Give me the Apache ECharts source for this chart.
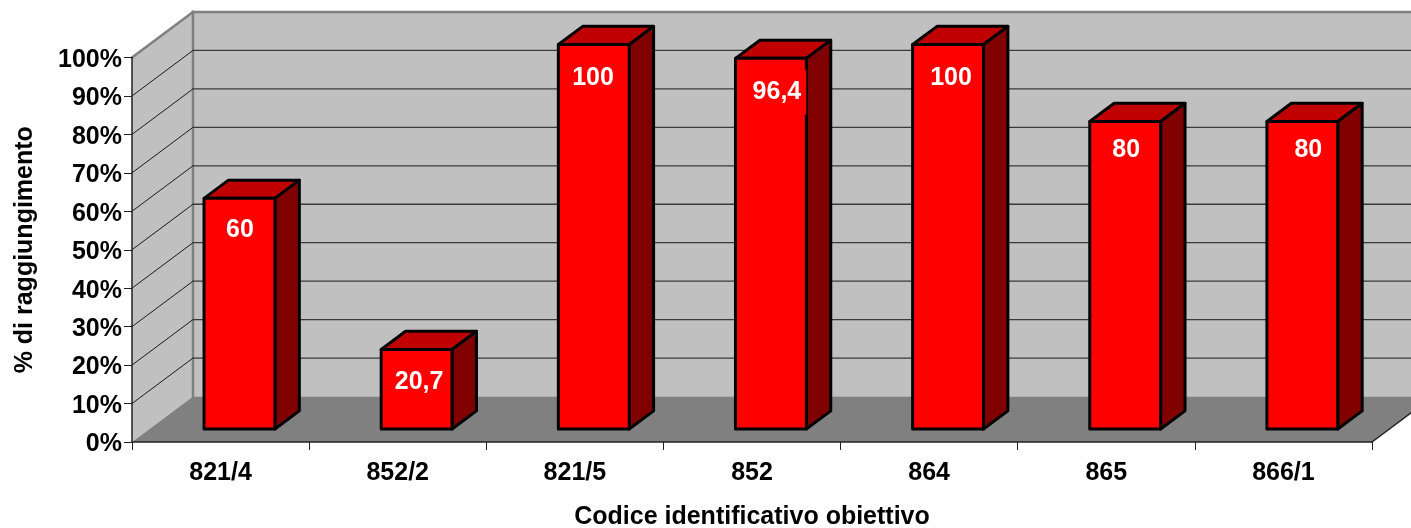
<!DOCTYPE html>
<html><head><meta charset="utf-8">
<style>html,body{margin:0;padding:0;background:#fff}#c{width:1411px;height:528px}</style>
<script src="https://cdn.jsdelivr.net/npm/echarts@6/dist/echarts.min.js"></script>
</head><body><div id="c"></div>
<script>
const categories = ['821/4','852/2','821/5','852','864','865','866/1'];
const values = [60,20.7,100,96.4,100,80,80];
const gridValues = [10,20,30,40,50,60,70,80,90];
const wallExtent = [0,100];

const DEPTH_X = 61, DEPTH_Y = -45.5;
const BAR_NEAR_X = 0.31, BAR_NEAR_Y = 0.285, BAR_DEPTH = 0.4, BAR_WIDTH = 0.4;
const LABEL_NUDGE_X = [0.5,2.5,-0.7,6,3,1,6];
const LABEL_NUDGE_Y = [-1,0,1,1,1,-4,-4];
const FONT = '"Liberation Sans", Arial, sans-serif';

function poly(points, fill, z2){
  return {type:'polygon', z2:z2||0, shape:{points}, style:{fill, stroke:null}};
}
function line(a,b,stroke,lineWidth,z2){
  return {type:'line', z2:z2||1, shape:{x1:a[0],y1:a[1],x2:b[0],y2:b[1]}, style:{stroke,lineWidth,lineCap:'square'}};
}
function plotEdges(api){
  const band = api.size([1,0])[0];
  return {
    left: api.coord([0,0])[0]-band/2,
    right: api.coord([categories.length-1,0])[0]+band/2,
    y0: api.coord([0,wallExtent[0]])[1],
    y1: api.coord([0,wallExtent[1]])[1],
    band
  };
}
function renderWalls(params,api){
  const e = plotEdges(api);
  const dx = DEPTH_X, dy = DEPTH_Y;
  const kids = [
    poly([[e.left+dx,e.y1+dy],[e.right+dx,e.y1+dy],[e.right+dx,e.y0+dy],[e.left+dx,e.y0+dy]],'#c0c0c0'),
    poly([[e.left,e.y1],[e.left+dx,e.y1+dy],[e.left+dx,e.y0+dy],[e.left,e.y0]],'#c0c0c0'),
    poly([[e.left,e.y0],[e.left+dx,e.y0+dy],[e.right+dx,e.y0+dy],[e.right,e.y0]],'#808080'),
    line([e.left,e.y1],[e.left+dx,e.y1+dy],'#808080',2.5,3),
    line([e.left+dx,e.y1+dy],[e.right+dx,e.y1+dy],'#808080',2.5,3),
    line([e.left+dx,e.y1+dy],[e.left+dx,e.y0+dy],'#808080',2.5,3),
    line([e.right,e.y0],[e.right+dx,e.y0+dy],'#222222',1.5,3)
  ];
  return {type:'group',children:kids};
}
function renderGrid(params,api){
  const e = plotEdges(api);
  const y = api.coord([0,api.value(0)])[1];
  return {type:'group',children:[
    line([e.left,y],[e.left+DEPTH_X,y+DEPTH_Y],'#1a1a1a',1),
    line([e.left+DEPTH_X,y+DEPTH_Y],[e.right+DEPTH_X,y+DEPTH_Y],'#3a3a3a',1.3)
  ]};
}
function renderBar(params,api){
  const cat = api.value(0), val = api.value(1);
  const band = api.size([1,0])[0];
  const c = api.coord([cat,0]);
  const top = api.coord([cat,val]);
  const w = band*BAR_WIDTH;
  const ox = DEPTH_X*BAR_NEAR_X, oy = DEPTH_Y*BAR_NEAR_Y;
  const sx = DEPTH_X*BAR_DEPTH, sy = DEPTH_Y*BAR_DEPTH;
  const l = c[0]+ox-w/2, r = l+w, b = c[1]+oy, t = top[1]+oy;
  const st = {stroke:'#000',lineWidth:3,lineJoin:'round'};
  return {type:'group',children:[
    {type:'polygon',shape:{points:[[l,t],[r,t],[r+sx,t+sy],[l+sx,t+sy]]},style:Object.assign({fill:'#c00000'},st)},
    {type:'polygon',shape:{points:[[r,t],[r+sx,t+sy],[r+sx,b+sy],[r,b]]},style:Object.assign({fill:'#800000'},st)},
    {type:'rect',shape:{x:l,y:t,width:w,height:b-t},style:Object.assign({fill:'#ff0000'},st)},
    {type:'text',x:(l+r)/2+LABEL_NUDGE_X[params.dataIndex],y:t+33+LABEL_NUDGE_Y[params.dataIndex],style:{
      text:String(val).replace('.',','),fill:'#fff',
      font:'bold 25px '+FONT,align:'center',verticalAlign:'middle',
      backgroundColor:'#ff0000',padding:[10,5,10,5]
    }}
  ]};
}
const chart = echarts.init(document.getElementById('c'),null,{renderer:'canvas'});
chart.setOption({
  animation:false,
  backgroundColor:'#fff',
  grid:{left:132,right:39,top:57.5,bottom:86,outerBoundsMode:'none'},
  xAxis:{
    type:'category',data:categories,z:5,
    name:'Codice identificativo obiettivo',nameLocation:'middle',nameGap:63,
    nameTextStyle:{color:'#000',fontFamily:FONT,fontWeight:'bold',fontSize:25},
    axisLine:{lineStyle:{color:'#222',width:1.5}},
    axisTick:{show:true,alignWithLabel:false,length:8,lineStyle:{color:'#222',width:1}},
    axisLabel:{interval:0,margin:19,color:'#000',fontFamily:FONT,fontWeight:'bold',fontSize:25},
    splitLine:{show:false}
  },
  yAxis:{
    type:'value',min:0,max:100,interval:10,z:5,
    name:'% di raggiungimento',nameLocation:'middle',nameGap:94,nameRotate:90,
    nameTextStyle:{color:'#000',fontFamily:FONT,fontWeight:'bold',fontSize:25},
    axisLine:{show:true,lineStyle:{color:'#222',width:1.5}},
    axisTick:{show:true,length:8,lineStyle:{color:'#222',width:1}},
    axisLabel:{margin:10,color:'#000',fontFamily:FONT,fontWeight:'bold',fontSize:25,
      formatter:v=>'{a|'+v+'%}',
      rich:{a:{color:'#000',fontFamily:FONT,fontWeight:'bold',fontSize:25,padding:[5,0,0,0]}}},
    splitLine:{show:false}
  },
  series:[
    {type:'custom',z:1,clip:false,silent:true,data:[[0]],renderItem:renderWalls},
    {type:'custom',z:2,clip:false,silent:true,data:gridValues.map(v=>[v]),encode:{y:0},renderItem:renderGrid},
    {type:'custom',z:3,clip:false,silent:true,data:values.map((v,i)=>[i,v]),encode:{x:0,y:1},renderItem:renderBar}
  ]
});
</script></body></html>
